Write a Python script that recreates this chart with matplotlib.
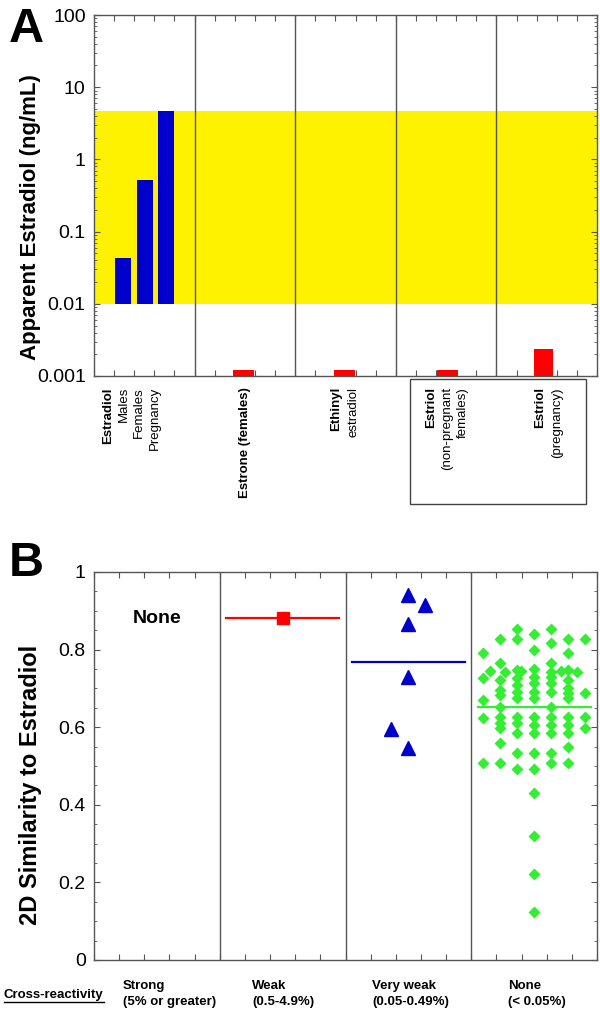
import numpy as np
import matplotlib
matplotlib.use("Agg")
import matplotlib.pyplot as plt
from matplotlib.patches import Rectangle
from matplotlib.lines import Line2D

plt.rcParams['font.family'] = ['Liberation Sans', 'DejaVu Sans']

# ---- panel A data ----
band_low, band_high = 0.01, 4.7
estradiol_x = [0.29, 0.51, 0.72]
estradiol_vals = [0.043, 0.52, 4.7]
other_x = [1.49, 2.49, 3.51, 4.47]
other_vals = [0.0012, 0.0012, 0.0012, 0.0024]

# (x position, text, bold)
a_labels = [
    (0.14, 'Estradiol', True),
    (0.30, 'Males', False),
    (0.45, 'Females', False),
    (0.61, 'Pregnancy', False),
    (1.50, 'Estrone (females)', True),
    (2.41, 'Ethinyl', True),
    (2.58, 'estradiol', False),
    (3.35, 'Estriol', True),
    (3.51, '(non-pregnant', False),
    (3.67, 'females)', False),
    (4.43, 'Estriol', True),
    (4.60, '(pregnancy)', False),
]

# ---- panel B data ----
weak_vals = [0.881]
weak_cols = [0]
vweak_vals = [0.941, 0.915, 0.866, 0.729, 0.595, 0.546]
vweak_cols = [0, 1, 0, 0, -1, 0]
none_cols = ([-3] * 5 + [-2.6] + [-2] * 11 + [-1.7] + [-1] * 12 + [-0.8]
             + [0] * 16 + [1] * 13 + [1.6] + [2] * 12 + [2.5] + [3] * 4)
none_vals = [0.790, 0.727, 0.670, 0.623, 0.508,
             0.746,
             0.828, 0.765, 0.721, 0.696, 0.683, 0.653, 0.627, 0.610, 0.598, 0.558, 0.507,
             0.743,
             0.853, 0.828, 0.748, 0.726, 0.709, 0.692, 0.674, 0.627, 0.610, 0.584, 0.533, 0.492,
             0.745,
             0.840, 0.799, 0.749, 0.730, 0.713, 0.692, 0.674, 0.627, 0.605, 0.584, 0.533, 0.492,
             0.431, 0.320, 0.222, 0.124,
             0.853, 0.816, 0.765, 0.743, 0.730, 0.713, 0.692, 0.653, 0.627, 0.605, 0.584, 0.533, 0.507,
             0.745,
             0.828, 0.790, 0.748, 0.721, 0.700, 0.687, 0.674, 0.627, 0.605, 0.584, 0.550, 0.507,
             0.743,
             0.828, 0.687, 0.627, 0.597]
means = [0.881, 0.768, 0.652]
mean_colors = ['#FF0000', '#0000CC', '#33EE33']
categories = ['Strong', 'Weak', 'Very weak', 'None']
ranges = ['(5% or greater)', '(0.5-4.9%)', '(0.05-0.49%)', '(< 0.05%)']
col_step = 0.135

W, H = 600, 1011
fig = plt.figure(figsize=(6, 10.11), dpi=100)


def px_axes(x0, y0, x1, y1):
    return fig.add_axes([x0 / W, 1 - y1 / H, (x1 - x0) / W, (y1 - y0) / H])


def style(ax):
    for s in ax.spines.values():
        s.set_color('#555555')
        s.set_linewidth(1)
    ax.tick_params(which='both', direction='in', top=True, right=True,
                   color='#555555', labelsize=14, pad=6)
    ax.tick_params(which='major', length=4)
    ax.tick_params(which='minor', length=2.5)


# ---------------- panel A ----------------
axA = px_axes(94, 15, 597, 376)
axA.set_yscale('log')
axA.set_ylim(0.001, 100)
axA.set_xlim(0, 5)
axA.axhspan(band_low, band_high, color='#FFF200', lw=0, zorder=0)
axA.bar(estradiol_x, np.array(estradiol_vals) - band_low, bottom=band_low,
        width=0.16, color='#0000CC', zorder=2)
axA.bar(other_x, np.array(other_vals) - 0.001, bottom=0.001,
        width=[0.21, 0.21, 0.21, 0.19], color='#FF0000', zorder=2)
for d in range(1, 5):
    axA.axvline(d, color='#555555', lw=1, zorder=3)
style(axA)
axA.set_xticks(np.arange(0, 5.01, 0.2))
axA.set_xticklabels([])
axA.set_yticks([0.001, 0.01, 0.1, 1, 10, 100])
axA.set_yticklabels(['0.001', '0.01', '0.1', '1', '10', '100'])
for x, t, b in a_labels:
    axA.annotate(t, xy=(x, 0), xycoords=('data', 'axes fraction'),
                 xytext=(0, -8), textcoords='offset points',
                 rotation=90, ha='center', va='top', fontsize=9.5,
                 fontweight='bold' if b else 'normal')
axA.add_patch(Rectangle((3.14, -0.355), 1.75, 0.347,
                        transform=axA.get_xaxis_transform(), clip_on=False,
                        fill=False, edgecolor='#444444', lw=1))
fig.text(31 / W, 1 - 217 / H, 'Apparent Estradiol (ng/mL)', rotation=90,
         ha='center', va='center', fontsize=16, fontweight='bold')
fig.text(9 / W, 1 - 42 / H, 'A', fontsize=35, fontweight='bold',
         ha='left', va='baseline')

# ---------------- panel B ----------------
axB = px_axes(94, 572, 597, 960)
axB.set_xlim(0, 4)
axB.set_ylim(0, 1)
for d in range(1, 4):
    axB.axvline(d, color='#555555', lw=1, zorder=1)
axB.plot(1.5 + np.array(weak_cols) * col_step, weak_vals, 's',
         color='#FF0000', ms=8, zorder=3)
axB.plot(2.5 + np.array(vweak_cols) * col_step, vweak_vals, '^',
         color='#0000CC', ms=9.5, zorder=3)
axB.plot(3.5 + np.array(none_cols) * col_step, none_vals, 'D',
         color='#33EE33', ms=6.5, mec='none', zorder=3)
for i, (m, c) in enumerate(zip(means, mean_colors)):
    axB.plot([i + 1.05, i + 1.95], [m, m], color=c, lw=1.6, zorder=2)
axB.text(0.5, 0.881, 'None', ha='center', va='center', fontsize=14,
         fontweight='bold')
style(axB)
axB.set_xticks(np.arange(0, 4.01, 0.2))
axB.set_xticklabels([])
axB.set_yticks(np.arange(0, 1.01, 0.2))
axB.set_yticklabels(['0', '0.2', '0.4', '0.6', '0.8', '1'])
axB.set_yticks(np.arange(0, 1.001, 0.05), minor=True)
fig.text(31 / W, 1 - 785 / H, '2D Similarity to Estradiol', rotation=90,
         ha='center', va='center', fontsize=17, fontweight='bold')
fig.text(9 / W, 1 - 576 / H, 'B', fontsize=35, fontweight='bold',
         ha='left', va='baseline')

# bottom category labels
label_left = [123, 252, 372, 508]
for x, c, r in zip(label_left, categories, ranges):
    fig.text(x / W, 1 - 986 / H, c, ha='left', va='center', fontsize=9.5,
             fontweight='bold')
    fig.text(x / W, 1 - 1002 / H, r, ha='left', va='center', fontsize=9.5,
             fontweight='bold')
cr = fig.text(4 / W, 1 - 995 / H, 'Cross-reactivity', ha='left', va='center',
              fontsize=9.5, fontweight='bold')
fig.canvas.draw()
bb = cr.get_window_extent().transformed(fig.transFigure.inverted())
fig.add_artist(Line2D([bb.x0, bb.x1], [bb.y0 - 0.001, bb.y0 - 0.001],
                      transform=fig.transFigure, color='black', lw=1))

fig.savefig('out.png', dpi=100)
